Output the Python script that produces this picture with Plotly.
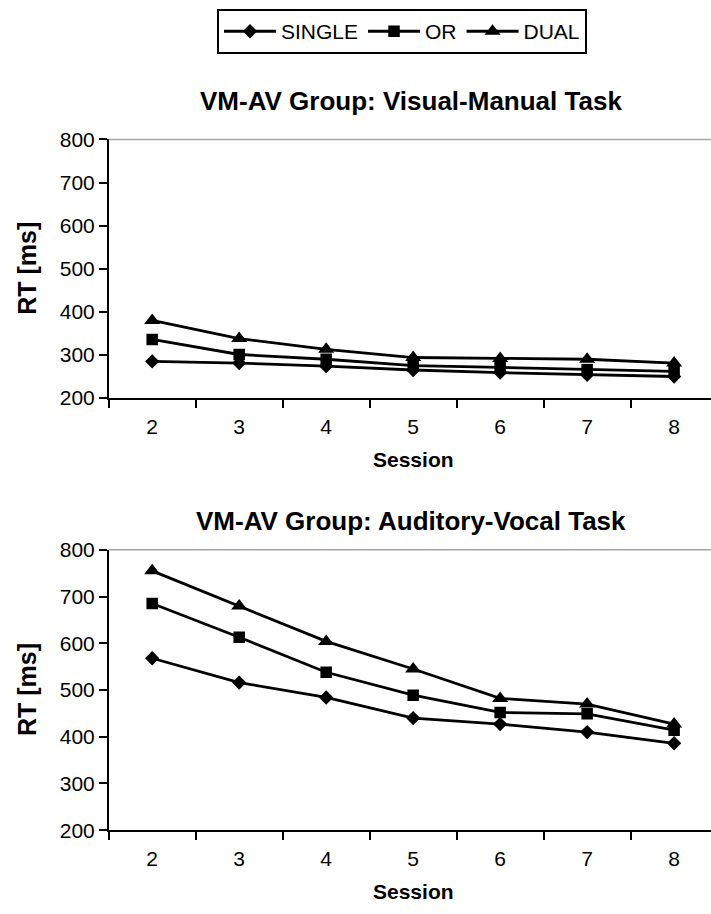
import plotly.graph_objects as go

sessions = [2, 3, 4, 5, 6, 7, 8]
vm_single = [285, 281, 274, 265, 259, 254, 250]
vm_or = [336, 301, 290, 275, 271, 266, 262]
vm_dual = [380, 338, 313, 294, 292, 290, 281]
av_single = [568, 516, 484, 440, 427, 410, 386]
av_or = [685, 613, 538, 489, 452, 449, 414]
av_dual = [755, 680, 604, 545, 482, 470, 427]
series_names = ["SINGLE", "OR", "DUAL"]
y_ticks = [200, 300, 400, 500, 600, 700, 800]
titles = ["VM-AV Group: Visual-Manual Task", "VM-AV Group: Auditory-Vocal Task"]

W, H = 711, 914
FONT = "Liberation Sans, Arial, sans-serif"

def py(px):
    return 1 - px / H

symbols = ["diamond", "square", "triangle-up"]
sizes = [11, 11.5, 14]

fig = go.Figure()
groups = [(vm_single, vm_or, vm_dual), (av_single, av_or, av_dual)]
for gi, grp in enumerate(groups):
    for si, vals in enumerate(grp):
        fig.add_trace(go.Scatter(
            x=sessions, y=vals, mode="lines+markers", name=series_names[si],
            line=dict(color="black", width=2.8),
            marker=dict(symbol=symbols[si], size=sizes[si], color="black"),
            showlegend=(gi == 0),
            xaxis="x" if gi == 0 else "x2", yaxis="y" if gi == 0 else "y2",
        ))

x_left = 108.7 / W
top_dom = [py(396), py(130.7)]
bot_dom = [py(839.3), py(551.7)]

xcommon = dict(
    range=[1.5, 8.424], tickvals=sessions, ticks="", showline=True,
    linecolor="black", linewidth=1.5, showgrid=False, zeroline=False,
    tickfont=dict(family=FONT, size=21, color="black"), ticklabelstandoff=9,
    minor=dict(tick0=1.5, dtick=1, ticks="outside", ticklen=8, tickcolor="black", tickwidth=1.5, showgrid=False),
    domain=[x_left, 1],
)
ycommon = dict(
    range=[200, 800], tickvals=y_ticks, ticks="outside", ticklen=8, tickwidth=1.5,
    tickcolor="black", showline=True, linecolor="black", linewidth=1.5,
    showgrid=False, zeroline=False,
    tickfont=dict(family=FONT, size=21, color="black"),
)

fig.update_layout(
    width=W, height=H, margin=dict(l=0, r=0, t=0, b=0),
    paper_bgcolor="white", plot_bgcolor="white",
    xaxis=dict(**xcommon, anchor="y"),
    yaxis=dict(**ycommon, domain=top_dom, anchor="x"),
    xaxis2=dict(**xcommon, anchor="y2"),
    yaxis2=dict(**ycommon, domain=bot_dom, anchor="x2"),
    legend=dict(
        orientation="h", x=402 / W, xanchor="center", y=py(-3), yanchor="top",
        bordercolor="black", borderwidth=2, bgcolor="white",
        font=dict(family=FONT, size=21, color="black"),
        itemwidth=52, tracegroupgap=0,
    ),
    showlegend=True,
)

shapes = []
for xr, yr in [("x domain", "y domain"), ("x2 domain", "y2 domain")]:
    shapes.append(dict(type="line", xref=xr, yref=yr, x0=0, x1=1, y0=1, y1=1,
                       line=dict(color="#a6a6a6", width=1.5)))
fig.update_layout(shapes=shapes)

ann = []
title_y = [91, 522]
axis_y = [396, 839.3]
plot_mid = [(130.7 + 396) / 2, (551.7 + 839.3) / 2]
for i in range(2):
    ann.append(dict(text="<b>%s</b>" % titles[i], xref="paper", yref="paper",
                    x=410.5 / W, y=py(title_y[i]), xanchor="center", yanchor="middle",
                    showarrow=False, font=dict(family=FONT, size=26, color="black")))
    ann.append(dict(text="<b>Session</b>", xref="paper", yref="paper",
                    x=413 / W, y=py(axis_y[i] + 63), xanchor="center", yanchor="middle",
                    showarrow=False, font=dict(family=FONT, size=21, color="black")))
    ann.append(dict(text="<b>RT [ms]</b>", xref="paper", yref="paper",
                    x=27 / W, y=py(plot_mid[i]), xanchor="center", yanchor="middle",
                    textangle=-90, showarrow=False,
                    font=dict(family=FONT, size=25, color="black")))
fig.update_layout(annotations=ann)

fig.write_html("out.html")
